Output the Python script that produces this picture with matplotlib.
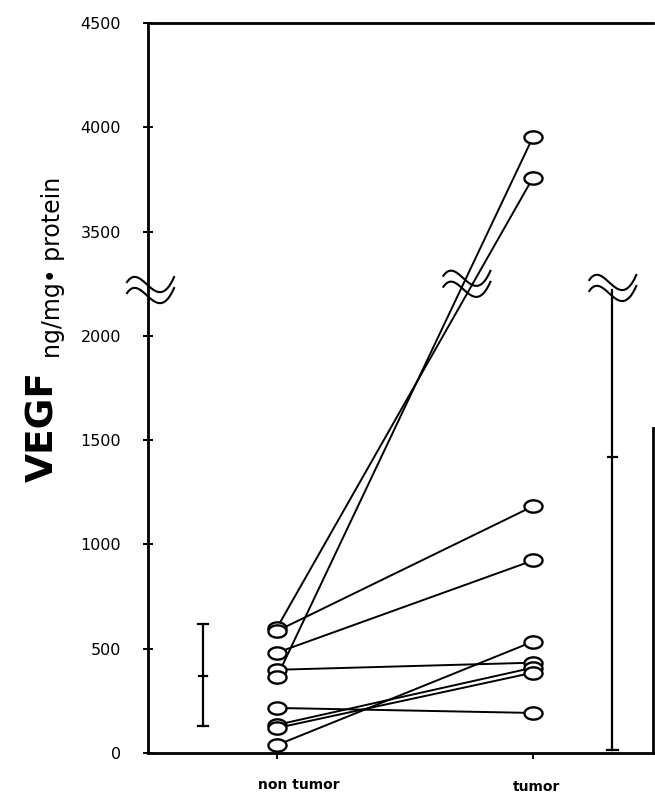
import matplotlib
matplotlib.use("Agg")
import matplotlib.pyplot as plt
import matplotlib.transforms as mtransforms
from matplotlib.path import Path
import numpy as np

plt.rcParams.update({
    "font.family": "DejaVu Sans",
    "axes.unicode_minus": False,
})

# paired VEGF values (ng/mg protein), one entry per patient
GROUPS = ["non tumor", "tumor"]
NON_TUMOR = [600, 585, 481, 399, 365, 216, 135, 120, 38]
TUMOR = [3758, 1183, 923, 433, 3953, 192, 409, 385, 534]

# mean and +/- SD bars drawn beside each group
NT_MEAN, NT_LOW, NT_HIGH = 370, 130, 620
T_MEAN, T_LOW, T_HIGH = 1420, 15, 3220

Y_TICKS = [0, 500, 1000, 1500, 2000, 3500, 4000, 4500]

# broken axis: values above the break are shifted down by GAP
BREAK_AT = 2250
GAP = 1000


def to_axis(v):
    v = np.asarray(v, dtype=float)
    return np.where(v > BREAK_AT, v - GAP, v)


def ellipse_marker(ratio=0.68):
    t = np.linspace(0, 2 * np.pi, 60)
    verts = np.column_stack([np.cos(t), ratio * np.sin(t)])
    return Path(verts, closed=True)


def draw_break(ax, x, y):
    """Draw the double wavy break sign centred at data point (x, y)."""
    fig = ax.figure
    trans = (mtransforms.Affine2D().scale(1 / fig.dpi) + fig.dpi_scale_trans
             + mtransforms.ScaledTranslation(x, y, ax.transData))
    t = np.linspace(0, 1, 60)[:, None]
    p0, p1, p2, p3 = (np.array(p, float) for p in [(-23, 4), (-8, 26), (6, -32), (24, 9)])
    curve = (1 - t) ** 3 * p0 + 3 * (1 - t) ** 2 * t * p1 + 3 * (1 - t) * t ** 2 * p2 + t ** 3 * p3
    for dy in (6, -5):
        ax.plot(curve[:, 0], curve[:, 1] + dy, color="black", lw=1.5,
                transform=trans, clip_on=False, zorder=6)


fig = plt.figure(figsize=(6.55, 7.93), dpi=100)
fig.patch.set_facecolor("white")
ax = fig.add_axes([148 / 655, 40 / 793, 505 / 655, 730 / 793])
ax.set_facecolor("white")

x_nt, x_t = 1, 2
marker = ellipse_marker()

for a, b in zip(NON_TUMOR, TUMOR):
    ax.plot([x_nt, x_t], to_axis([a, b]), color="black", lw=1.4, zorder=3)

ax.plot([x_nt] * len(NON_TUMOR), to_axis(NON_TUMOR), linestyle="none", marker=marker,
        ms=13, mfc="white", mec="black", mew=1.7, zorder=5)
ax.plot([x_t] * len(TUMOR), to_axis(TUMOR), linestyle="none", marker=marker,
        ms=13, mfc="white", mec="black", mew=1.7, zorder=5)

# mean +/- SD, non tumor
xb = 0.711
ax.plot([xb, xb], [NT_LOW, NT_HIGH], color="black", lw=1.6)
for yv, half in [(NT_LOW, 0.02), (NT_HIGH, 0.02), (NT_MEAN, 0.014)]:
    ax.plot([xb - half, xb + half], [yv, yv], color="black", lw=1.6)

# mean +/- SD, tumor (upper end runs into the break)
xt = 2.31
ax.plot([xt, xt], [T_LOW, float(to_axis(T_HIGH))], color="black", lw=1.6)
for yv, half in [(T_LOW, 0.022), (T_MEAN, 0.018)]:
    ax.plot([xt - half, xt + half], [yv, yv], color="black", lw=1.6)

# break signs
draw_break(ax, 0.504, 2210)
draw_break(ax, 1.74, 2240)
draw_break(ax, xt, 2220)

ax.set_xlim(0.496, 2.469)
ax.set_ylim(0, float(to_axis(4500)))

ax.set_yticks(to_axis(Y_TICKS))
ax.set_yticklabels([str(v) for v in Y_TICKS], fontsize=11.5)
ax.tick_params(axis="y", direction="inout", length=7, width=1.4, pad=16)
ax.set_xticks([x_nt, x_t])
ax.set_xticklabels([])
ax.tick_params(axis="x", direction="out", length=4, width=1.4)

for side in ["left", "bottom", "top", "right"]:
    ax.spines[side].set_linewidth(2.0)
ax.spines["right"].set_bounds(0, 1560)

# category labels, set a little right of the ticks as in the original
label_trans = mtransforms.blended_transform_factory(ax.transData, ax.transAxes)
ax.text(1.086, -0.044, GROUPS[0], transform=label_trans, ha="center", va="center",
        fontsize=10, fontweight="bold")
ax.text(2.016, -0.047, GROUPS[1], transform=label_trans, ha="center", va="center",
        fontsize=10, fontweight="bold")

fig.text(43 / 655, 1 - 426 / 793, "VEGF", rotation=90, ha="center", va="center",
         fontsize=27, fontweight="bold")
fig.text(53 / 655, 1 - 267 / 793, "ng/mg\u2022 protein", rotation=90, ha="center",
         va="center", fontsize=17)

fig.savefig("out.png", dpi=100, facecolor="white")
